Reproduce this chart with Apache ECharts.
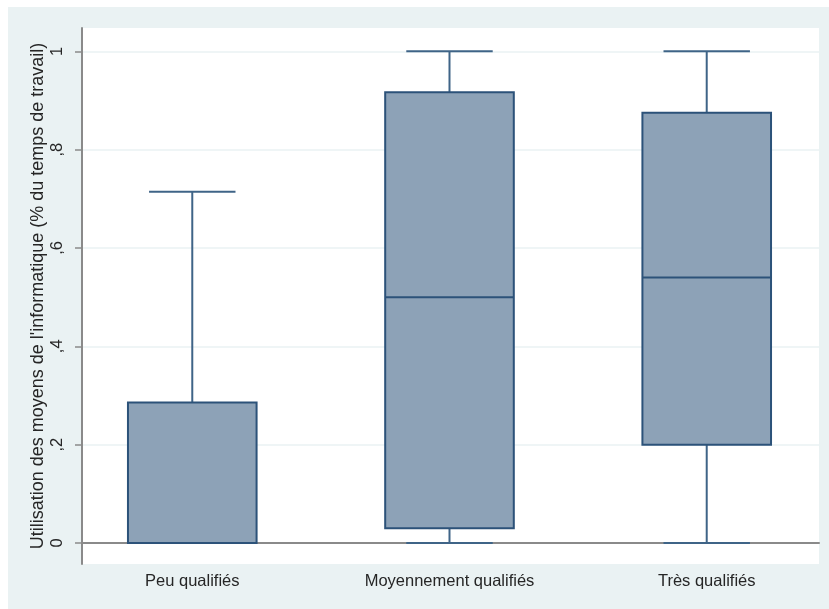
<!DOCTYPE html>
<html><head><meta charset="utf-8">
<script src="https://cdn.jsdelivr.net/npm/echarts@6/dist/echarts.min.js"></script>
<style>html,body{margin:0;padding:0;background:#fff;}#c{width:829px;height:609px;}</style>
</head><body><div id="c"></div>
<script>
const categories = ['Peu qualifiés', 'Moyennement qualifiés', 'Très qualifiés'];
const lowerWhisker = [0, 0, 0];
const q1 = [0, 0.03, 0.2];
const median = [0, 0.5, 0.54];
const q3 = [0.2857, 0.9167, 0.875];
const upperWhisker = [0.7143, 1, 1];
const yTicks = [0, 0.2, 0.4, 0.6, 0.8, 1];
const yTickLabels = ['0', ',2', ',4', ',6', ',8', '1'];
const yTitle = "Utilisation des moyens de l'informatique (% du temps de travail)";

const data = categories.map((c, i) => [i + 1, lowerWhisker[i], q1[i], median[i], q3[i], upperWhisker[i]]);
const boxHalf = 0.25, capHalf = 0.168;
const fill = '#8DA2B7', stroke = '#2C5279', whisk = '#3F6487';
const font = 'Liberation Sans, Arial, sans-serif';

const chart = echarts.init(document.getElementById('c'));
chart.setOption({
  animation: false,
  backgroundColor: '#fff',
  graphic: [{ type: 'rect', z: -10, silent: true, shape: { x: 8, y: 7, width: 821, height: 602 }, style: { fill: '#EAF2F3' } }],
  grid: { left: 82, top: 28, right: 10, bottom: 45, show: true, backgroundColor: '#fff', borderWidth: 0 },
  xAxis: {
    type: 'value', min: 0.5713, max: 3.4365,
    axisLine: { show: true, lineStyle: { color: '#8A8A8A', width: 2 } },
    axisTick: { show: false },
    splitLine: { show: false },
    axisLabel: {
      customValues: [1, 2, 3],
      formatter: v => categories[Math.round(v) - 1] || '',
      color: '#262626', fontFamily: font, fontSize: 16.5, margin: 9
    }
  },
  yAxis: {
    type: 'value', min: -0.0427, max: 1.0474,
    name: yTitle, nameLocation: 'middle', nameGap: 35, nameMoveOverlap: false,
    nameTextStyle: { color: '#262626', fontFamily: font, fontSize: 18 },
    axisLine: { show: true, lineStyle: { color: '#8A8A8A', width: 2 } },
    axisTick: { show: true, customValues: yTicks, length: 7, lineStyle: { color: '#8A8A8A', width: 1.5 } },
    splitLine: { show: true, lineStyle: { color: '#EAF2F3', width: 1.5 } },
    axisLabel: {
      customValues: yTicks, rotate: 90,
      formatter: v => { const i = yTicks.findIndex(t => Math.abs(t - v) < 1e-6); return i >= 0 ? yTickLabels[i] : ''; },
      color: '#262626', fontFamily: font, fontSize: 16.5, margin: 16
    }
  },
  series: [{
    type: 'custom',
    data: data,
    encode: { x: 0, y: [1, 2, 3, 4, 5] },
    renderItem: function (params, api) {
      const x = api.value(0);
      const lw = api.value(1), a = api.value(2), m = api.value(3), b = api.value(4), uw = api.value(5);
      const pL = api.coord([x - boxHalf, b]);
      const pR = api.coord([x + boxHalf, a]);
      const c = api.coord([x, 0])[0];
      const cl = api.coord([x - capHalf, 0])[0], cr = api.coord([x + capHalf, 0])[0];
      const yUw = api.coord([x, uw])[1], yLw = api.coord([x, lw])[1];
      const yB = pL[1], yA = pR[1], yM = api.coord([x, m])[1];
      const ls = { stroke: whisk, lineWidth: 2 };
      return {
        type: 'group',
        children: [
          { type: 'line', shape: { x1: c, y1: yUw, x2: c, y2: yB }, style: ls },
          { type: 'line', shape: { x1: cl, y1: yUw, x2: cr, y2: yUw }, style: ls },
          { type: 'line', shape: { x1: c, y1: yA, x2: c, y2: yLw }, style: ls },
          { type: 'line', shape: { x1: cl, y1: yLw, x2: cr, y2: yLw }, style: ls },
          { type: 'rect', shape: { x: pL[0], y: yB, width: pR[0] - pL[0], height: yA - yB }, style: { fill: fill, stroke: stroke, lineWidth: 2 } },
          { type: 'line', shape: { x1: pL[0], y1: yM, x2: pR[0], y2: yM }, style: { stroke: stroke, lineWidth: 2 } }
        ]
      };
    }
  }]
});
</script></body></html>
